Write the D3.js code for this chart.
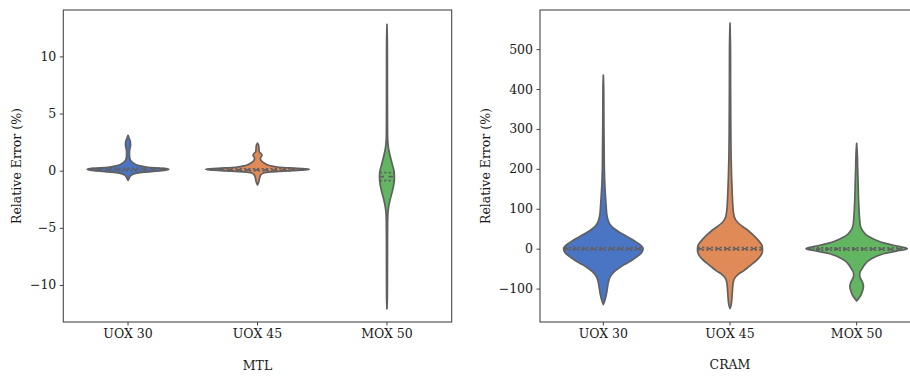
<!DOCTYPE html>
<html><head><meta charset="utf-8">
<script src="https://cdn.jsdelivr.net/npm/d3@7"></script>
<style>body{margin:0;background:#fff}svg{display:block}</style>
</head><body><svg id="c" width="910" height="376"></svg>
<script>
// ---------- data ----------
const categories = ["UOX 30", "UOX 45", "MOX 50"];
const colors = ["#4a74c4", "#e08a58", "#62b662"];

// Left panel (MTL) violin profiles: [value (%), density (arb.)]
const mtlUOX30 = [[-0.85,0],[-0.7,1],[-0.5,2],[-0.3,5],[-0.15,14],[-0.05,28],[0.05,38],[0.12,41],[0.2,36],[0.3,20],[0.45,11],[0.6,6.5],[0.8,3.5],[1.0,2],[1.3,1.5],[1.6,1.4],[1.9,1.8],[2.2,2.5],[2.5,2.4],[2.8,1.3],[3.1,0]];
const mtlUOX45 = [[-1.25,0],[-1.0,1.2],[-0.7,2],[-0.4,3],[-0.2,6],[-0.1,14],[0.0,35],[0.08,50],[0.12,52],[0.2,40],[0.3,22],[0.45,12],[0.65,7],[0.85,4],[1.05,3],[1.2,3.5],[1.35,4.5],[1.5,3.5],[1.65,1.8],[1.9,1.5],[2.2,1.2],[2.4,0]];
const mtlMOX50 = [[-12.1,0],[-11,0.4],[-8,0.5],[-5,0.6],[-4,0.8],[-3.4,1.3],[-3,2],[-2.5,3.3],[-2,4.8],[-1.5,6.2],[-1,7.2],[-0.5,7.5],[0,7],[0.5,5.5],[1,4],[1.5,2.6],[2,1.5],[2.5,0.9],[3,0.6],[5,0.5],[8,0.45],[11,0.4],[12.8,0]];
const mtlQuartiles = [[0.0,0.1,0.2],[0.0,0.07,0.17],[-0.87,-0.52,-0.17]];
const mtlTicks = [-10,-5,0,5,10];
const mtlDomain = [-13.24, 14.06];

// Right panel (CRAM)
const cramUOX30 = [[-140,0],[-130,1.5],[-115,3],[-100,4],[-85,5],[-70,7],[-60,10],[-50,15],[-40,21],[-30,28],[-20,34],[-10,38.5],[0,40],[10,37],[20,31],[30,24],[40,17],[50,11],[60,7],[70,5],[85,3.5],[100,3],[130,2.2],[160,1.5],[200,1],[250,0.8],[300,0.6],[350,0.5],[400,0.4],[435,0]];
const cramUOX45 = [[-150,0],[-140,1.2],[-120,2],[-100,2.6],[-85,3.2],[-75,4.5],[-65,8],[-55,14],[-45,19],[-35,24],[-25,28.5],[-15,31.5],[-5,32.7],[5,32.5],[15,30.5],[25,27],[35,23],[45,18.5],[55,13],[65,8],[75,5],[90,3.5],[110,2.8],[140,2.2],[180,1.6],[230,1.1],[300,0.8],[400,0.6],[500,0.5],[565,0]];
const cramMOX50 = [[-131,0],[-125,2],[-115,4.5],[-105,6],[-95,6.8],[-85,6],[-75,4],[-67,3],[-58,3.5],[-50,5.5],[-40,8],[-30,12],[-20,19],[-12,28],[-6,40],[-2,49],[0,51],[3,48],[8,38],[14,28],[20,21],[28,14],[36,9],[45,6],[55,4],[65,3.3],[80,2.8],[100,2.3],[130,1.8],[160,1.5],[200,1],[240,0.6],[264,0]];
const cramQuartiles = [[-3,0,3],[-3,0,3],[-4,-1,2]];
const cramTicks = [-100,0,100,200,300,400,500];
const cramDomain = [-183.7, 598];

const yLabel = "Relative Error (%)";
const xLabels = ["MTL", "CRAM"];

// ---------- drawing ----------
const svg = d3.select("#c");
const FONT = "'DejaVu Serif', serif";
const EDGE = "#606060";

function panel(opt) {
  const g = svg.append("g");
  const x = d3.scaleBand().domain(categories).range([opt.x0, opt.x1]).padding(0);
  const y = d3.scaleLinear().domain(opt.domain).range([opt.y1, opt.y0]);
  const maxD = d3.max(opt.profiles, p => d3.max(p, d => d[1]));
  const w = d3.scaleLinear().domain([0, maxD]).range([0, x.bandwidth() * 0.4]);

  opt.profiles.forEach((prof, i) => {
    const cx = x(categories[i]) + x.bandwidth() / 2;
    const area = d3.area()
      .y(d => y(d[0]))
      .x0(d => cx - w(d[1]))
      .x1(d => cx + w(d[1]))
      .curve(d3.curveMonotoneY);
    g.append("path").attr("d", area(prof))
      .attr("fill", colors[i]).attr("stroke", EDGE).attr("stroke-width", 1.7)
      .attr("stroke-linejoin", "round");
    // quartile lines
    const vals = prof.map(d => d[0]);
    const dens = prof.map(d => d[1]);
    const interp = v => {
      const k = d3.bisectRight(vals, v);
      if (k <= 0 || k >= vals.length) return 0;
      const t = (v - vals[k-1]) / (vals[k] - vals[k-1]);
      return dens[k-1] + t * (dens[k] - dens[k-1]);
    };
    opt.quartiles[i].forEach((q, j) => {
      const hw = w(interp(q));
      g.append("line")
        .attr("x1", cx - hw).attr("x2", cx + hw)
        .attr("y1", y(q)).attr("y2", y(q))
        .attr("stroke", EDGE).attr("stroke-width", 1.6)
        .attr("stroke-dasharray", j === 1 ? "4.5,4.5" : "2.2,2.2");
    });
  });

  // axes
  const ya = g.append("g").attr("transform", `translate(${opt.x0},0)`)
    .call(d3.axisLeft(y).tickValues(opt.ticks).tickSize(3.5).tickPadding(3.5));
  const xa = g.append("g").attr("transform", `translate(0,${opt.y1})`)
    .call(d3.axisBottom(x).tickSize(3.5).tickPadding(3.5));
  [ya, xa].forEach(a => {
    a.select(".domain").remove();
    a.selectAll("line").attr("stroke", "#444");
    a.selectAll("text").attr("font-family", FONT).attr("font-size", 12.5).attr("fill", "#1a1a1a");
  });
  // frame
  g.append("rect").attr("x", opt.x0).attr("y", opt.y0)
    .attr("width", opt.x1 - opt.x0).attr("height", opt.y1 - opt.y0)
    .attr("fill", "none").attr("stroke", "#484848").attr("stroke-width", 1.1);

  g.append("text").attr("x", (opt.x0 + opt.x1) / 2).attr("y", opt.xlabelY)
    .attr("text-anchor", "middle").attr("font-family", FONT).attr("font-size", 12.5)
    .attr("fill", "#1a1a1a").text(opt.xlabel);
  g.append("text")
    .attr("transform", `translate(${opt.ylabelX},${(opt.y0 + opt.y1) / 2}) rotate(-90)`)
    .attr("text-anchor", "middle").attr("font-family", FONT).attr("font-size", 12.5)
    .attr("fill", "#1a1a1a").text(yLabel);
}

panel({x0: 63.3, x1: 451.7, y0: 10, y1: 322, domain: mtlDomain, ticks: mtlTicks,
  profiles: [mtlUOX30, mtlUOX45, mtlMOX50], quartiles: mtlQuartiles,
  xlabel: xLabels[0], xlabelY: 369.5, ylabelX: 21});
panel({x0: 540, x1: 920, y0: 10, y1: 322, domain: cramDomain, ticks: cramTicks,
  profiles: [cramUOX30, cramUOX45, cramMOX50], quartiles: cramQuartiles,
  xlabel: xLabels[1], xlabelY: 368.5, ylabelX: 490});
</script></body></html>
